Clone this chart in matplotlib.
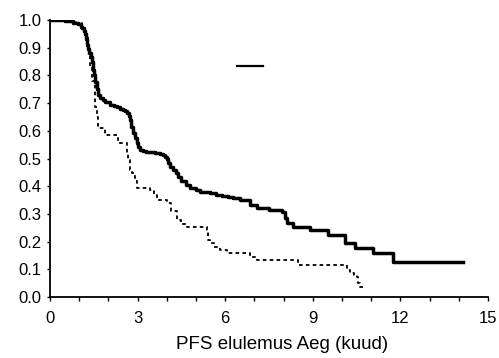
import matplotlib
matplotlib.use("Agg")
import matplotlib.pyplot as plt
from matplotlib.lines import Line2D
from matplotlib.ticker import MultipleLocator, FormatStrFormatter

plt.rcParams['font.family'] = ['Liberation Sans', 'DejaVu Sans']

# group 1 (solid) - Kaplan-Meier steps
t_solid = [0, 0.5, 0.8, 0.96, 1.05, 1.1, 1.15, 1.2, 1.24, 1.27, 1.31, 1.35,
           1.4, 1.44, 1.47, 1.5, 1.55, 1.6, 1.65, 1.71, 1.8, 1.9, 2.05, 2.2,
           2.3, 2.4, 2.5, 2.58, 2.64, 2.7, 2.74, 2.79, 2.84, 2.9, 2.97, 3.03,
           3.08, 3.2, 3.3, 3.45, 3.6, 3.75, 3.87, 3.95, 4.0, 4.05, 4.11, 4.2,
           4.3, 4.4, 4.5, 4.65, 4.79, 5.0, 5.14, 5.3, 5.48, 5.7, 5.9, 6.1,
           6.27, 6.5, 6.85, 7.09, 7.5, 7.95, 8.05, 8.1, 8.33, 8.9, 9.52, 10.1,
           10.45, 11.06, 11.75, 14.14]
s_solid = [1.0, 0.995, 0.99, 0.985, 0.975, 0.97, 0.96, 0.95, 0.93, 0.91,
           0.895, 0.88, 0.865, 0.85, 0.82, 0.8, 0.775, 0.75, 0.73, 0.72, 0.71,
           0.705, 0.694, 0.69, 0.686, 0.68, 0.676, 0.67, 0.665, 0.655, 0.64,
           0.615, 0.593, 0.575, 0.557, 0.54, 0.53, 0.527, 0.525, 0.522, 0.52,
           0.517, 0.514, 0.505, 0.5, 0.485, 0.47, 0.458, 0.448, 0.435, 0.42,
           0.405, 0.394, 0.385, 0.38, 0.378, 0.376, 0.37, 0.365, 0.36, 0.358,
           0.351, 0.333, 0.322, 0.315, 0.307, 0.285, 0.268, 0.253, 0.242,
           0.224, 0.195, 0.177, 0.159, 0.125, 0.125]

# group 2 (dashed)
t_dash = [0, 0.5, 0.9, 1.1, 1.2, 1.3, 1.37, 1.45, 1.54, 1.6, 1.65, 1.88, 2.33,
          2.62, 2.67, 2.75, 2.8, 2.9, 2.97, 3.42, 3.55, 3.66, 4.0, 4.15, 4.34,
          4.5, 4.68, 5.36, 5.42, 5.48, 5.6, 5.82, 6.05, 6.85, 7.09, 8.5, 10.17,
          10.27, 10.4, 10.5, 10.55, 10.6, 10.8]
s_dash = [1.0, 0.995, 0.99, 0.97, 0.95, 0.9, 0.83, 0.78, 0.687, 0.65, 0.61,
          0.586, 0.557, 0.52, 0.495, 0.46, 0.448, 0.42, 0.394, 0.387, 0.37,
          0.351, 0.34, 0.31, 0.278, 0.265, 0.253, 0.242, 0.206, 0.195, 0.18,
          0.17, 0.159, 0.145, 0.134, 0.116, 0.098, 0.087, 0.08, 0.072, 0.05,
          0.036, 0.036]

fig = plt.figure(figsize=(4.99, 3.58), dpi=100)
ax = fig.add_axes([0.1002, 0.1704, 0.8778, 0.7737])

ax.step(t_solid, s_solid, where='post', color='black', lw=2.5)
ax.step(t_dash, s_dash, where='post', color='black', lw=1.3,
        linestyle=(0, (2.0, 1.8)))

ax.set_xlim(0, 15)
ax.set_ylim(0, 1.0)
ax.xaxis.set_major_locator(MultipleLocator(3))
ax.xaxis.set_minor_locator(MultipleLocator(1))
ax.yaxis.set_major_locator(MultipleLocator(0.1))
ax.yaxis.set_major_formatter(FormatStrFormatter('%.1f'))

for side in ['top', 'right']:
    ax.spines[side].set_visible(False)
ax.spines['left'].set_linewidth(1.3)
ax.spines['bottom'].set_linewidth(1.3)
ax.tick_params(axis='x', which='both', direction='out', length=3, width=1,
               labelsize=12, pad=7)
ax.tick_params(axis='y', direction='out', length=2, width=1, labelsize=12,
               pad=4)

ax.set_xlabel('PFS elulemus Aeg (kuud)', fontsize=13.5)
ax.xaxis.set_label_coords(0.53, -0.142)

ax.legend(handles=[Line2D([], [], color='black', lw=1.6)], labels=[''],
          frameon=False, loc='center left', bbox_to_anchor=(0.427, 0.83),
          borderpad=0, borderaxespad=0, handlelength=1.85, handletextpad=0)

fig.savefig('out.png', dpi=100)
